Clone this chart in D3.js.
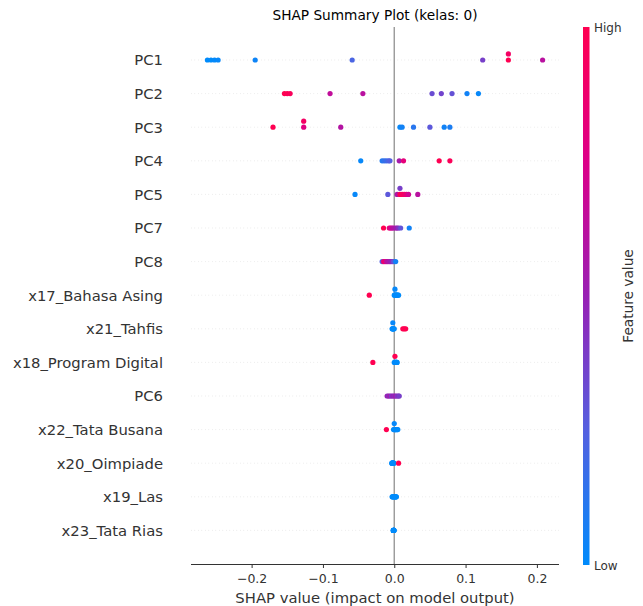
<!DOCTYPE html>
<html>
<head>
<meta charset="utf-8">
<script src="https://cdn.jsdelivr.net/npm/d3@7"></script>
<style>
    body { margin: 0; background: #fff; }
    text { font-family: "DejaVu Sans", sans-serif; }
</style>
</head>
<body>
<div id="container"></div>
<script>
// feature order, top to bottom
const features = ["PC1", "PC2", "PC3", "PC4", "PC5", "PC7", "PC8", "x17_Bahasa Asing",
    "x21_Tahfis", "x18_Program Digital", "PC6", "x22_Tata Busana", "x20_Oimpiade",
    "x19_Las", "x23_Tata Rias"];

// SHAP values per feature (one per sample)
const shapValues = [
    [-0.262, -0.257, -0.252, -0.247, -0.195, -0.059, 0.124, 0.160, 0.160, 0.208],
    [-0.154, -0.150, -0.146, -0.090, -0.044, 0.053, 0.066, 0.081, 0.102, 0.118],
    [-0.170, -0.127, -0.127, -0.075, 0.008, 0.011, 0.027, 0.050, 0.070, 0.078],
    [-0.047, -0.017, -0.014, -0.011, -0.008, -0.006, 0.007, 0.013, 0.063, 0.078],
    [-0.055, -0.009, 0.004, 0.008, 0.008, 0.011, 0.014, 0.017, 0.020, 0.033],
    [-0.015, -0.007, -0.005, -0.003, -0.001, 0.002, 0.004, 0.006, 0.009, 0.021],
    [-0.017, -0.015, -0.013, -0.011, -0.009, -0.007, -0.005, -0.003, -0.001, 0.002],
    [-0.035, 0.000, 0.001, 0.001, 0.002, 0.0025, 0.003, 0.004, 0.005, 0.006],
    [-0.003, -0.0025, -0.002, -0.002, -0.0015, -0.001, 0.000, 0.012, 0.014, 0.016],
    [-0.030, 0.000, 0.001, 0.001, 0.0015, 0.002, 0.0025, 0.003, 0.0035, 0.004],
    [-0.010, -0.008, -0.006, -0.004, -0.002, 0.000, 0.002, 0.004, 0.006, 0.007],
    [-0.011, -0.001, 0.000, 0.000, 0.001, 0.0015, 0.002, 0.003, 0.004, 0.005],
    [-0.0035, -0.003, -0.0028, -0.0025, -0.0022, -0.002, -0.0015, -0.001, -0.0005, 0.006],
    [-0.003, -0.0025, -0.002, -0.001, 0.000, 0.0005, 0.001, 0.002, 0.0025, 0.003],
    [-0.0015, -0.0013, -0.0011, -0.001, -0.0009, -0.0008, -0.0007, -0.0006, -0.0005, -0.0004]
];

// normalised feature values (0 = low, 1 = high), same order as shapValues
const featureValues = [
    [0.00, 0.00, 0.01, 0.02, 0.04, 0.22, 0.38, 1.00, 0.92, 0.62],
    [1.00, 0.98, 0.96, 0.65, 0.62, 0.33, 0.36, 0.31, 0.05, 0.02],
    [1.00, 0.78, 0.92, 0.60, 0.02, 0.05, 0.12, 0.28, 0.05, 0.08],
    [0.02, 0.10, 0.15, 0.18, 0.22, 0.25, 0.55, 0.82, 1.00, 0.97],
    [0.02, 0.28, 0.58, 1.00, 0.38, 0.95, 0.90, 0.82, 0.70, 0.62],
    [1.00, 0.82, 0.75, 0.65, 0.60, 0.55, 0.50, 0.42, 0.30, 0.05],
    [0.25, 0.82, 0.88, 0.65, 0.60, 0.55, 0.50, 0.45, 0.30, 0.05],
    [1.00, 0.00, 0.00, 0.02, 0.00, 0.00, 0.00, 0.00, 0.00, 0.00],
    [0.00, 0.00, 0.00, 0.02, 0.00, 0.00, 0.00, 1.00, 1.00, 1.00],
    [1.00, 0.00, 0.00, 1.00, 0.00, 0.00, 0.00, 0.00, 0.00, 0.00],
    [0.50, 0.45, 0.55, 0.40, 0.50, 0.45, 0.55, 0.40, 0.45, 0.38],
    [1.00, 0.00, 0.00, 0.02, 0.00, 0.00, 0.00, 0.00, 0.00, 0.00],
    [0.00, 0.00, 0.00, 0.00, 0.00, 0.00, 0.00, 0.00, 0.00, 1.00],
    [0.00, 0.00, 0.00, 0.00, 0.00, 0.00, 0.00, 0.00, 0.00, 0.00],
    [0.00, 0.00, 0.00, 0.00, 0.00, 0.00, 0.00, 0.00, 0.00, 0.00]
];

const xTicks = [-0.2, -0.1, 0.0, 0.1, 0.2];
const title = "SHAP Summary Plot (kelas: 0)";
const xLabel = "SHAP value (impact on model output)";

// low -> high colour stops
const colorStops = ["#008bfb", "#5460e0", "#9820b4", "#dc0088", "#ff0051"];

const W = 643, H = 606;
const plot = {left: 191, right: 559, top: 27, bottom: 564};

const svg = d3.select("#container").append("svg")
    .attr("width", W)
    .attr("height", H);

const x = d3.scaleLinear().domain([-0.285, 0.231]).range([plot.left, plot.right]);
const y = d3.scalePoint().domain(features).range([60, 530.4]);
const rowStep = y.step();
const color = d3.scaleSequential(d3.piecewise(d3.interpolateRgb, colorStops)).domain([0, 1]);

// beeswarm offsets, same idea as shap: bin the values and stack duplicates
function swarm(vals) {
    const nbins = 100;
    const lo = d3.min(vals), hi = d3.max(vals);
    const quant = vals.map(v => hi > lo ? Math.round(nbins * (v - lo) / (hi - lo)) : 0);
    const inds = d3.range(vals.length).sort((a, b) => quant[a] - quant[b] || a - b);
    const ys = new Array(vals.length).fill(0);
    let layer = 0, last = -1;
    inds.forEach(i => {
        if (quant[i] !== last) layer = 0;
        ys[i] = Math.ceil(layer / 2) * ((layer % 2) * 2 - 1);
        layer += 1;
        last = quant[i];
    });
    const k = 0.9 * (0.4 / (d3.max(ys) + 1));
    return ys.map(v => v * k);
}

// dotted row guides
svg.append("g").selectAll("line")
    .data(features)
    .join("line")
    .attr("x1", plot.left).attr("x2", plot.right)
    .attr("y1", d => y(d)).attr("y2", d => y(d))
    .attr("stroke", "#cccccc")
    .attr("stroke-width", 0.6)
    .attr("stroke-dasharray", "0.6,2.9");

// zero line
svg.append("line")
    .attr("x1", x(0)).attr("x2", x(0))
    .attr("y1", plot.top).attr("y2", plot.bottom)
    .attr("stroke", "#999999")
    .attr("stroke-width", 1.4);

// points
const points = [];
features.forEach((f, i) => {
    const offs = swarm(shapValues[i]);
    shapValues[i].forEach((v, j) => {
        points.push({feature: f, shap: v, fv: featureValues[i][j], off: offs[j]});
    });
});

svg.append("g").selectAll("circle")
    .data(points)
    .join("circle")
    .attr("cx", d => x(d.shap))
    .attr("cy", d => y(d.feature) - d.off * rowStep)
    .attr("r", 2.6)
    .attr("fill", d => color(d.fv));

// feature labels
svg.append("g").selectAll("text")
    .data(features)
    .join("text")
    .attr("x", 163)
    .attr("y", d => y(d) + 5.4)
    .attr("text-anchor", "end")
    .attr("font-size", "14.8px")
    .attr("fill", "#333333")
    .text(d => d);

// x axis
const xAxis = svg.append("g")
    .attr("transform", `translate(0,${plot.bottom})`)
    .call(d3.axisBottom(x).tickValues(xTicks).tickSize(4).tickPadding(6)
        .tickFormat(d => d3.format(".1f")(d).replace("-", "\u2212")));
xAxis.select(".domain").attr("stroke", "#333333").attr("d", `M${plot.left},0.5H${plot.right}`);
xAxis.selectAll(".tick line").attr("stroke", "#333333");
xAxis.selectAll(".tick text")
    .attr("font-family", "DejaVu Sans, sans-serif")
    .attr("font-size", "12.5px")
    .attr("fill", "#333333");

svg.append("text")
    .attr("x", (plot.left + plot.right) / 2)
    .attr("y", 602.5)
    .attr("text-anchor", "middle")
    .attr("font-size", "14.8px")
    .attr("fill", "#333333")
    .text(xLabel);

svg.append("text")
    .attr("x", (plot.left + plot.right) / 2)
    .attr("y", 20)
    .attr("text-anchor", "middle")
    .attr("font-size", "13.7px")
    .attr("fill", "#000")
    .text(title);

// colour bar
const cb = {x: 583, w: 6.5, top: 27, bottom: 565};
const grad = svg.append("defs").append("linearGradient")
    .attr("id", "cbGrad")
    .attr("x1", 0).attr("y1", 1).attr("x2", 0).attr("y2", 0);
grad.selectAll("stop")
    .data(d3.range(0, 1.0001, 0.05))
    .join("stop")
    .attr("offset", d => d)
    .attr("stop-color", d => color(d));

svg.append("rect")
    .attr("x", cb.x).attr("y", cb.top)
    .attr("width", cb.w).attr("height", cb.bottom - cb.top)
    .attr("fill", "url(#cbGrad)");

svg.append("text")
    .attr("x", 594).attr("y", cb.top + 4.5)
    .attr("font-size", "12px").attr("fill", "#333333")
    .text("High");
svg.append("text")
    .attr("x", 594).attr("y", cb.bottom + 4.5)
    .attr("font-size", "12px").attr("fill", "#333333")
    .text("Low");

svg.append("text")
    .attr("transform", `translate(633,${(cb.top + cb.bottom) / 2}) rotate(-90)`)
    .attr("text-anchor", "middle")
    .attr("font-size", "13.7px")
    .attr("fill", "#333333")
    .text("Feature value");
</script>
</body>
</html>
